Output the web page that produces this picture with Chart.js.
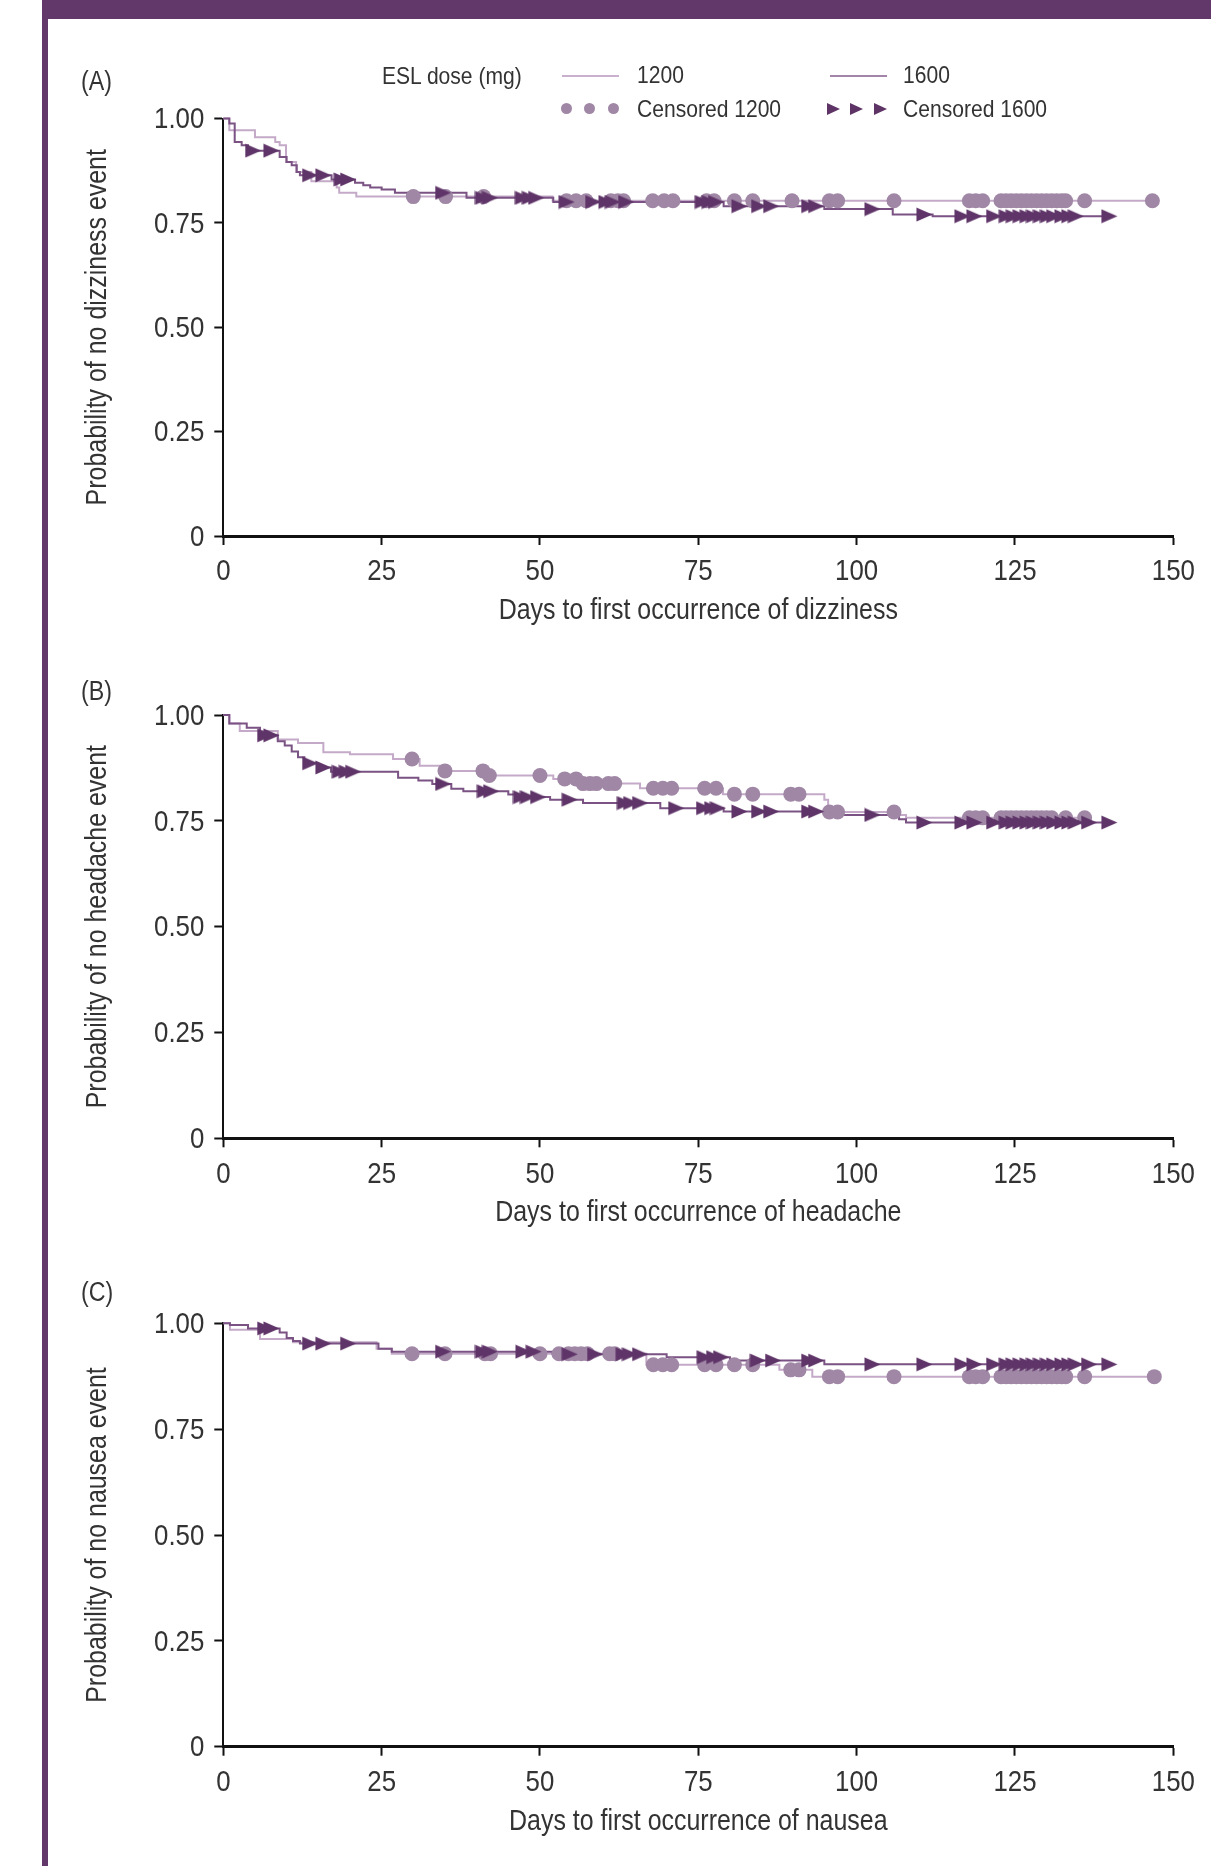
<!DOCTYPE html>
<html>
<head>
<meta charset="utf-8">
<script src="https://cdn.jsdelivr.net/npm/chart.js@4.4.1/dist/chart.umd.min.js"></script>
<style>
  html, body { margin: 0; padding: 0; background: #fff; }
  #page { position: relative; width: 1211px; height: 1866px; overflow: hidden; background: #fff;
          font-family: "Liberation Sans", Arial, sans-serif; color: #333; }
  .bar { position: absolute; background: #62386a; }
  canvas { position: absolute; left: 0; }
  .t { position: absolute; white-space: nowrap; height: 30px; line-height: 30px; transform: scaleX(0.86); transform-origin: 0 50%; }
  .leg { font-size: 24.5px; }
  .plab { font-size: 27px; }
  .lline { position: absolute; height: 2px; width: 57px; }
  .dot { position: absolute; width: 11px; height: 11px; border-radius: 50%; background: #a087a6; }
  .tri { position: absolute; width: 0; height: 0; border-top: 6px solid transparent; border-bottom: 6px solid transparent; border-left: 13px solid #5e3366; }
</style>
</head>
<body>
<div id="page">
  <div class="bar" style="left:42px;top:0;width:1169px;height:19px"></div>
  <div class="bar" style="left:42px;top:0;width:6px;height:1866px"></div>

  <canvas id="cA" width="1211" height="575" style="top:80px"></canvas>
  <canvas id="cB" width="1211" height="584" style="top:675px"></canvas>
  <canvas id="cC" width="1211" height="583" style="top:1283px"></canvas>

  <div class="t plab" style="left:81px;top:66px">(A)</div>
  <div class="t plab" style="left:81px;top:676px">(B)</div>
  <div class="t plab" style="left:81px;top:1277px">(C)</div>

  <div class="t leg" style="left:382px;top:61px">ESL dose (mg)</div>
  <div class="lline" style="left:562px;top:75px;background:#c9b1cd"></div>
  <div class="t leg" style="left:637px;top:60px">1200</div>
  <div class="lline" style="left:830px;top:75px;background:#a385a9"></div>
  <div class="t leg" style="left:903px;top:60px">1600</div>
  <div class="dot" style="left:561px;top:103px"></div>
  <div class="dot" style="left:584px;top:103px"></div>
  <div class="dot" style="left:608px;top:103px"></div>
  <div class="t leg" style="left:637px;top:94px">Censored 1200</div>
  <div class="tri" style="left:827px;top:103px"></div>
  <div class="tri" style="left:850px;top:103px"></div>
  <div class="tri" style="left:874px;top:103px"></div>
  <div class="t leg" style="left:903px;top:94px">Censored 1600</div>
</div>
<script>
// ---------------- DATA ----------------
const xTickLabels = ['0', '25', '50', '75', '100', '125', '150'];
const yTickLabels = ['0', '0.25', '0.50', '0.75', '1.00'];
const doseLabels = ['1200', '1600'];

// Panel A: dizziness
const aT1200 = [0, 0.95, 5.0, 8.2, 8.9, 9.9, 11.5, 13.9, 17.9, 18.3, 21, 52];
const aS1200 = [1, 0.972, 0.955, 0.944, 0.936, 0.896, 0.872, 0.85, 0.835, 0.822, 0.813, 0.803];
const aC1200 = [30, 35.1, 41.1, 54.2, 55.7, 57.3, 61.2, 62.3, 63.2, 67.8, 69.6, 71, 76.3, 77.5, 80.7, 83.6, 89.8, 95.7, 97, 105.9, 117.8, 118.8, 119.9, 122.8, 123.6, 124.4, 125.2, 126, 126.8, 127.6, 128.4, 129.2, 130, 130.8, 131.6, 132.4, 133, 136, 146.7];
const aT1600 = [0, 0.95, 1.8, 2.9, 3.9, 8.9, 10, 10.8, 11.6, 12.1, 17.1, 20.8, 22.1, 23.2, 25, 27.1, 38.4, 52.1, 79, 94.9, 105.7, 112];
const aS1600 = [1, 0.988, 0.944, 0.936, 0.923, 0.908, 0.896, 0.888, 0.872, 0.864, 0.854, 0.846, 0.84, 0.835, 0.83, 0.822, 0.81, 0.80, 0.79, 0.783, 0.77, 0.766];
const aC1600 = [4.7, 7.6, 13.7, 15.8, 18.7, 19.7, 34.7, 41, 42.1, 47.3, 48.4, 49.4, 54.2, 58.4, 60.5, 61.5, 63.6, 75.7, 76.8, 77.8, 81.5, 84.6, 86.5, 92.5, 93.6, 102.5, 110.7, 116.7, 118.6, 121.7, 123.7, 124.8, 125.9, 127, 128, 129.1, 130.2, 131.2, 132.5, 133.6, 134.6, 139.9];

// Panel B: headache
const bT1200 = [0, 0.95, 2.6, 8.6, 11.8, 15.8, 20, 26.8, 31, 34.2, 41.5, 52.1, 56.8, 65.8, 78.9, 94.9, 95.5, 106.7, 107.8];
const bS1200 = [1, 0.98, 0.962, 0.942, 0.934, 0.912, 0.907, 0.896, 0.88, 0.868, 0.857, 0.849, 0.838, 0.827, 0.813, 0.80, 0.771, 0.764, 0.757];
const bC1200 = [29.8, 35, 41, 42, 50, 53.9, 55.7, 56.8, 57.9, 58.9, 60.8, 61.8, 67.9, 69.4, 70.8, 76, 77.8, 80.7, 83.6, 89.6, 90.9, 95.7, 97, 105.9, 117.8, 118.8, 119.9, 122.8, 123.6, 124.4, 125.2, 126, 126.8, 127.6, 128.4, 129.2, 130, 130.8, 133, 136];
const bT1600 = [0, 0.95, 3.7, 5.8, 8.6, 9.7, 10.8, 11.8, 12.8, 14.8, 17, 27.6, 30.8, 33, 36, 37.9, 45, 46.5, 51.6, 56.8, 69, 79, 95, 106.7, 107.8];
const bS1600 = [1, 0.98, 0.97, 0.952, 0.938, 0.928, 0.914, 0.90, 0.886, 0.876, 0.866, 0.852, 0.845, 0.837, 0.826, 0.82, 0.812, 0.806, 0.80, 0.792, 0.78, 0.772, 0.764, 0.754, 0.746];
const bC1600 = [6.6, 7.6, 13.7, 15.8, 18.4, 19.5, 20.5, 34.7, 41.3, 42.3, 47, 48.1, 49.7, 54.7, 63.4, 64.4, 65.8, 71.5, 75.9, 77.2, 78.1, 81.5, 84.6, 86.5, 92.5, 93.6, 102.5, 110.7, 116.7, 118.6, 121.7, 123.7, 124.8, 125.9, 127, 128, 129.1, 130.2, 131.2, 132.5, 133.6, 134.6, 136.7, 139.9];

// Panel C: nausea
const cT1200 = [0, 1.05, 5.8, 11, 24.2, 26.6, 66.8, 87.8, 93];
const cS1200 = [1, 0.985, 0.963, 0.955, 0.94, 0.928, 0.902, 0.89, 0.874];
const cC1200 = [29.8, 35, 41.3, 42.2, 50, 53, 54.5, 55.5, 56.5, 57.5, 61, 61.8, 67.9, 69.4, 70.8, 76, 77.8, 80.7, 83.6, 89.6, 90.9, 95.7, 97, 105.9, 117.8, 118.8, 119.9, 122.8, 123.6, 124.4, 125.2, 126, 126.8, 127.6, 128.4, 129.2, 130, 130.8, 131.6, 132.4, 133, 136, 147];
const cT1600 = [0, 1.05, 3.9, 8.9, 10, 11, 12.1, 24.5, 26.6, 52, 70, 80, 94.9];
const cS1600 = [1, 0.996, 0.988, 0.978, 0.965, 0.958, 0.952, 0.94, 0.933, 0.927, 0.92, 0.912, 0.903];
const cC1600 = [6.6, 7.6, 13.7, 15.8, 19.7, 34.7, 41, 42.1, 47.4, 49, 54.7, 58.7, 63.2, 64.2, 65.8, 76, 77.5, 78.6, 84.4, 86.8, 92.5, 93.6, 102.5, 110.7, 116.7, 118.6, 121.7, 123.7, 124.8, 125.9, 127, 128, 129.1, 130.2, 131.2, 132.5, 133.6, 134.6, 136.7, 139.9];

const panelTexts = [
  {y: 'Probability of no dizziness event', x: 'Days to first occurrence of dizziness'},
  {y: 'Probability of no headache event', x: 'Days to first occurrence of headache'},
  {y: 'Probability of no nausea event', x: 'Days to first occurrence of nausea'}
];

// ---------------- STYLE / LAYOUT ----------------
const FONT = '"Liberation Sans", Arial, sans-serif';
const TEXT = '#333';
const C1200_LINE = '#c4aac8', C1200_DOT = '#a087a6';
const C1600_LINE = '#7a5283', C1600_TRI = '#5f3468';
const CONDENSE = 0.86;   // horizontal squeeze to imitate the condensed typeface

// condensed canvas text (text stays real text, only narrowed horizontally)
const _fillText = CanvasRenderingContext2D.prototype.fillText;
CanvasRenderingContext2D.prototype.fillText = function (txt, x, y) {
  this.save();
  this.translate(x, y);
  this.scale(CONDENSE, 1);
  _fillText.call(this, txt, 0, 0);
  this.restore();
};

// pixel layout of each panel (chart-area top/bottom in page coordinates)
const layouts = [
  {canvas: 'cA', canvasTop: 80,   height: 575, areaTop: 118.5, areaBottom: 536},
  {canvas: 'cB', canvasTop: 675,  height: 584, areaTop: 715,   areaBottom: 1138.3},
  {canvas: 'cC', canvasTop: 1283, height: 583, areaTop: 1323.3, areaBottom: 1746.7}
];
const AREA_LEFT = 223.3, AREA_RIGHT = 1173.3, PAD_LEFT = 50, XSCALE_H = 110;

// right-pointing censor triangle
const tri = document.createElement('canvas');
tri.width = 17; tri.height = 15;
(function () {
  const g = tri.getContext('2d');
  g.fillStyle = C1600_TRI;
  g.beginPath(); g.moveTo(0.5, 0.5); g.lineTo(16.5, 7.5); g.lineTo(0.5, 14.5); g.closePath(); g.fill();
})();

function survAt(T, S, t) {
  let s = S[0];
  for (let i = 0; i < T.length; i++) if (T[i] <= t) s = S[i];
  return s;
}
function curve(T, S, C) {
  const pts = T.map((t, i) => ({x: t, y: S[i]}));
  const end = Math.max(...C);
  if (end > T[T.length - 1]) pts.push({x: end, y: S[S.length - 1]});
  return pts;
}
function cens(T, S, C) { return C.map(t => ({x: t, y: survAt(T, S, t)})); }

const series = [
  [aT1200, aS1200, aC1200, aT1600, aS1600, aC1600],
  [bT1200, bS1200, bC1200, bT1600, bS1600, bC1600],
  [cT1200, cS1200, cC1200, cT1600, cS1600, cC1600]
];

series.forEach((s, p) => {
  const [T1, S1, C1, T2, S2, C2] = s;
  const L = layouts[p];
  const padTop = L.areaTop - L.canvasTop;
  const padBottom = L.height - XSCALE_H - (L.areaBottom - L.canvasTop);
  new Chart(document.getElementById(L.canvas), {
    type: 'scatter',
    data: {
      datasets: [
        {label: 'Censored ' + doseLabels[1], data: cens(T2, S2, C2), pointStyle: tri, pointRadius: 8,
         showLine: false, order: 0, clip: false},
        {label: 'Censored ' + doseLabels[0], data: cens(T1, S1, C1), pointStyle: 'circle', pointRadius: 7.5,
         pointBackgroundColor: C1200_DOT, pointBorderWidth: 0, showLine: false, order: 1, clip: false},
        {label: doseLabels[1], data: curve(T2, S2, C2), showLine: true, stepped: true, borderColor: C1600_LINE,
         borderWidth: 2, pointRadius: 0, order: 2, clip: false},
        {label: doseLabels[0], data: curve(T1, S1, C1), showLine: true, stepped: true, borderColor: C1200_LINE,
         borderWidth: 2, pointRadius: 0, order: 3, clip: false}
      ]
    },
    options: {
      responsive: false, animation: false, devicePixelRatio: 1,
      layout: {padding: {left: PAD_LEFT, right: 1211 - AREA_RIGHT, top: padTop, bottom: padBottom}},
      plugins: {legend: {display: false}, tooltip: {enabled: false}},
      scales: {
        x: {
          type: 'linear', min: 0, max: 150,
          afterFit: sc => { sc.height = XSCALE_H; },
          ticks: {stepSize: 25, color: TEXT, padding: 9, font: {family: FONT, size: 30},
                  callback: (v, i) => xTickLabels[i]},
          grid: {display: true, drawOnChartArea: false, drawTicks: true, tickLength: 9, tickWidth: 2, tickColor: '#111'},
          border: {display: true, color: '#111', width: 3},
          title: {display: true, text: panelTexts[p].x, color: TEXT, font: {family: FONT, size: 29},
                  padding: {top: 0, bottom: 17.5}}
        },
        y: {
          type: 'linear', min: 0, max: 1,
          afterFit: sc => { sc.width = AREA_LEFT - PAD_LEFT; },
          ticks: {stepSize: 0.25, color: TEXT, padding: 10, labelOffset: 1.5, font: {family: FONT, size: 30},
                  callback: (v, i) => yTickLabels[i]},
          grid: {display: true, drawOnChartArea: false, drawTicks: true, tickLength: 9, tickWidth: 2, tickColor: '#111'},
          border: {display: true, color: '#111', width: 2},
          title: {display: true, text: panelTexts[p].y, color: TEXT, font: {family: FONT, size: 29},
                  padding: {top: 30.6, bottom: 0}}
        }
      }
    }
  });
});
</script>
</body>
</html>
